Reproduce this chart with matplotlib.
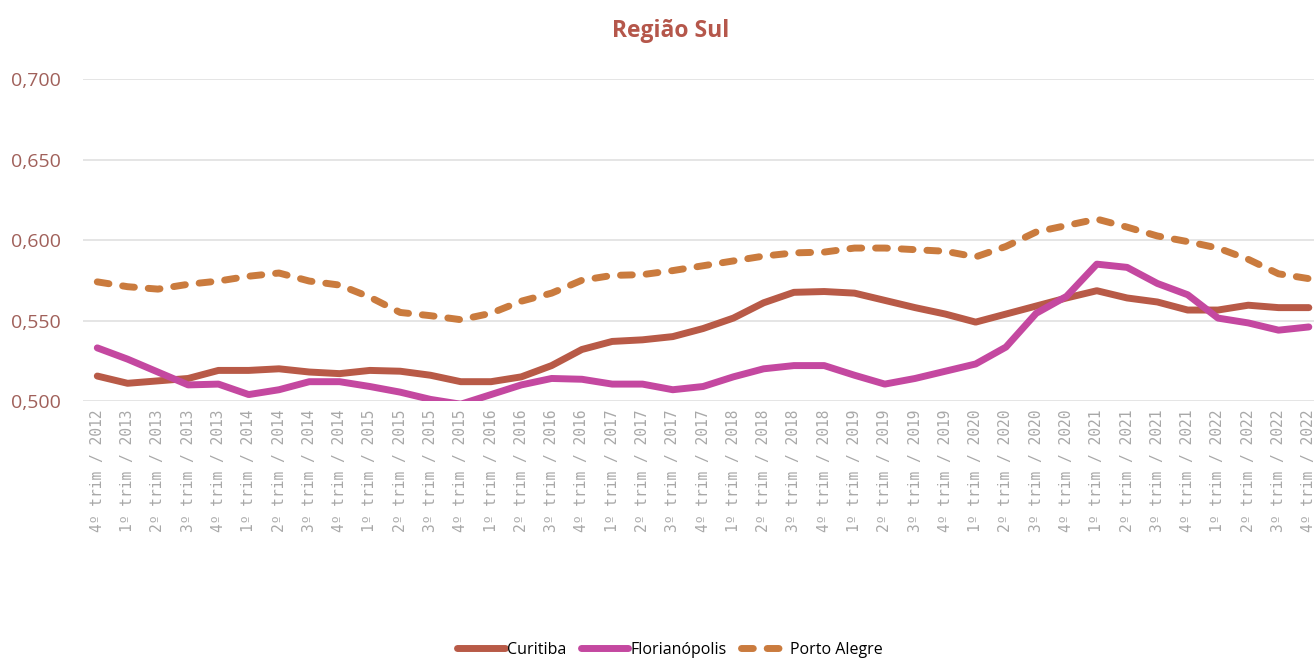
import matplotlib.pyplot as plt
from matplotlib.ticker import FuncFormatter

# quarters from 4º trim / 2012 to 4º trim / 2022
quarters = (["4º trim / 2012"]
            + [f"{q}º trim / {y}" for y in range(2013, 2023) for q in (1, 2, 3, 4)])

curitiba = [0.5155, 0.511, 0.5125, 0.514, 0.519, 0.519, 0.520, 0.518, 0.517, 0.519,
            0.5185, 0.516, 0.512, 0.512, 0.515, 0.522, 0.532, 0.537, 0.538, 0.540,
            0.545, 0.5515, 0.561, 0.5675, 0.568, 0.567, 0.5625, 0.558, 0.554, 0.549,
            0.554, 0.559, 0.564, 0.5685, 0.564, 0.5615, 0.5565, 0.5565, 0.5595, 0.558,
            0.558]
florianopolis = [0.533, 0.526, 0.518, 0.510, 0.5105, 0.504, 0.507, 0.512, 0.512, 0.509,
                 0.5055, 0.501, 0.498, 0.504, 0.510, 0.514, 0.5135, 0.5105, 0.5105, 0.507,
                 0.509, 0.515, 0.520, 0.522, 0.522, 0.516, 0.5105, 0.514, 0.5185, 0.523,
                 0.5335, 0.5545, 0.565, 0.585, 0.583, 0.573, 0.566, 0.5515, 0.5485, 0.544,
                 0.546]
porto_alegre = [0.574, 0.571, 0.5695, 0.5725, 0.5745, 0.5775, 0.5795, 0.5745, 0.572, 0.5645,
                0.555, 0.553, 0.5505, 0.5545, 0.562, 0.567, 0.575, 0.578, 0.5785, 0.581,
                0.584, 0.587, 0.590, 0.592, 0.5925, 0.595, 0.595, 0.594, 0.593, 0.5895,
                0.596, 0.605, 0.609, 0.613, 0.608, 0.6025, 0.599, 0.595, 0.588, 0.579,
                0.576]

y_ticks = [0.500, 0.550, 0.600, 0.650, 0.700]

fig = plt.figure(figsize=(13.14, 6.59), dpi=100)
ax = fig.add_axes([0.0632, 0.3915, 0.9437, 0.4886])

x = range(len(quarters))
ax.plot(x, curitiba, color="#B85A47", lw=5, solid_capstyle="round",
        solid_joinstyle="round", label="Curitiba", zorder=3)
ax.plot(x, florianopolis, color="#C448A0", lw=5, solid_capstyle="round",
        solid_joinstyle="round", label="Florianópolis", zorder=3)
ax.plot(x, porto_alegre, color="#CA7B3E", lw=5, dashes=(1.7, 2.0),
        dash_capstyle="round", label="Porto Alegre", zorder=3)

ax.set_xlim(-0.47, len(quarters) - 1 + 0.47)
ax.set_ylim(0.5, 0.7)
ax.set_yticks(y_ticks)
ax.yaxis.set_major_formatter(FuncFormatter(lambda v, p: f"{v:.3f}".replace(".", ",")))
ax.set_xticks(list(x))
ax.set_xticklabels(quarters, rotation=90, family="DejaVu Sans Mono",
                   fontsize=10.5, color="#A8A8A8")

for lbl in ax.get_yticklabels():
    lbl.set_family("Open Sans")
    lbl.set_fontsize(14)
    lbl.set_color("#A0605A")

ax.tick_params(length=0)
ax.tick_params(axis="y", pad=16)
ax.tick_params(axis="x", pad=6)
ax.grid(axis="y", color="#E3E3E3", lw=1.3)
ax.set_axisbelow(True)
for s in ax.spines.values():
    s.set_visible(False)

fig.text(0.51, 0.953, "Região Sul", ha="center", va="center",
         family="Open Sans", fontweight="bold", fontsize=16.5, color="#B5574B")

fig.legend(loc="lower center", bbox_to_anchor=(0.51, -0.02), ncol=3, frameon=False,
           prop={"family": "Open Sans", "size": 11.5}, handlelength=3.0,
           handletextpad=0.1, columnspacing=0.9)

fig.savefig("out.png", dpi=100)
